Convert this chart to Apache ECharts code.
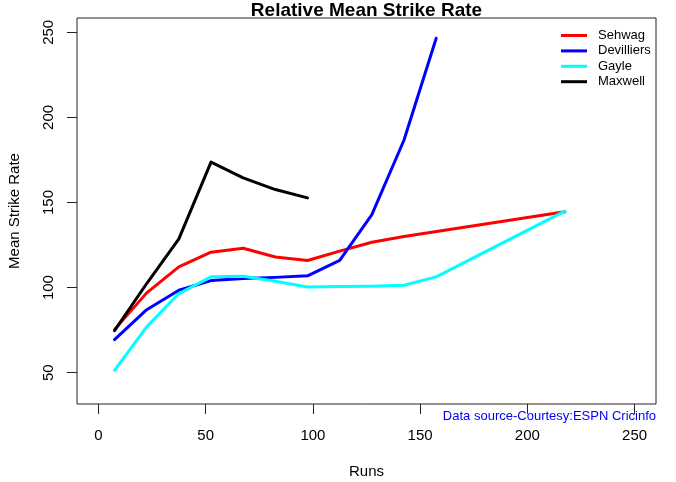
<!DOCTYPE html>
<html><head><meta charset="utf-8">
<script src="https://cdn.jsdelivr.net/npm/echarts@6/dist/echarts.min.js"></script>
<style>html,body{margin:0;padding:0;background:#fff}#c{width:676px;height:482px}</style>
</head><body><div id="c"></div>
<script>
const runs = [7.5, 22.5, 37.5, 52.5, 67.5, 82.5, 97.5, 112.5, 127.5, 142.5, 157.5, 217.5];
const sehwag = [75.3, 96.9, 112.2, 120.8, 123.1, 118.0, 115.9, 121.4, 126.6, 130.0, null, 144.5];
const devilliers = [69.4, 87.0, 98.4, 104.1, 105.3, 106.0, 106.9, 116.0, 142.9, 186.7, 246.5];
const gayle = [51.4, 76.9, 96.5, 106.3, 106.7, 103.7, 100.4, 100.6, 100.8, 101.4, 106.3, 144.9];
const maxwell = [74.7, 102.4, 128.6, 173.7, 164.5, 157.6, 152.7];
const xTicks = [0, 50, 100, 150, 200, 250];
const yTicks = [50, 100, 150, 200, 250];
const names = ['Sehwag', 'Devilliers', 'Gayle', 'Maxwell'];
const colors = ['#FF0000', '#0000FF', '#00FFFF', '#000000'];
const seriesVals = [sehwag, devilliers, gayle, maxwell];

function pairs(vals) {
  const out = [];
  vals.forEach((v, i) => { if (v !== null && v !== undefined) out.push([runs[i], v]); });
  return out;
}

const F = 'Liberation Sans, Arial, sans-serif';
const chart = echarts.init(document.getElementById('c'), null, {renderer: 'canvas'});
chart.setOption({
  animation: false,
  backgroundColor: '#fff',
  title: [
    {text: 'Relative Mean Strike Rate', left: 361.5, top: -4, textAlign: 'center',
     textStyle: {fontFamily: F, fontWeight: 'bold', fontSize: 19, color: '#000'}},
    {text: 'Data source-Courtesy:ESPN Cricinfo', right: 15, top: 405,
     textStyle: {fontFamily: F, fontWeight: 'normal', fontSize: 13, color: '#0000FF'}}
  ],
  legend: {
    orient: 'vertical', left: 556, top: 23, itemGap: 0.4, itemWidth: 26, itemHeight: 3,
    icon: 'rect',
    data: names,
    textStyle: {fontFamily: F, fontSize: 13, color: '#000', lineHeight: 15, padding: [0,0,0,6]}
  },
  grid: {left: 77, right: 20, top: 18, bottom: 78, show: true, borderColor: '#222', borderWidth: 1,
         containLabel: false, outerBoundsMode: 'none'},
  xAxis: {
    type: 'value', min: -10, max: 260,
    name: 'Runs', nameLocation: 'middle', nameGap: 60,
    nameTextStyle: {fontFamily: F, fontSize: 15, color: '#000'},
    axisLine: {show: false, onZero: false},
    axisTick: {show: true, inside: false, length: 10, customValues: xTicks, lineStyle: {color: '#222'}},
    axisLabel: {customValues: xTicks, margin: 24, fontFamily: F, fontSize: 15, color: '#000'},
    splitLine: {show: false}
  },
  yAxis: {
    type: 'value', min: 31.6, max: 258.4,
    name: 'Mean Strike Rate', nameLocation: 'middle', nameGap: 55,
    nameTextStyle: {fontFamily: F, fontSize: 15, color: '#000'},
    axisLine: {show: false, onZero: false},
    axisTick: {show: true, inside: false, length: 10, customValues: yTicks, lineStyle: {color: '#222'}},
    axisLabel: {customValues: yTicks, rotate: 90, margin: 21, fontFamily: F, fontSize: 15, color: '#000'},
    splitLine: {show: false}
  },
  series: names.map((n, i) => ({
    name: n, type: 'line', data: pairs(seriesVals[i]), showSymbol: false, symbol: 'none',
    lineStyle: {width: 3, color: colors[i], join: 'round', cap: 'round'}, itemStyle: {color: colors[i]}
  }))
});
</script></body></html>
